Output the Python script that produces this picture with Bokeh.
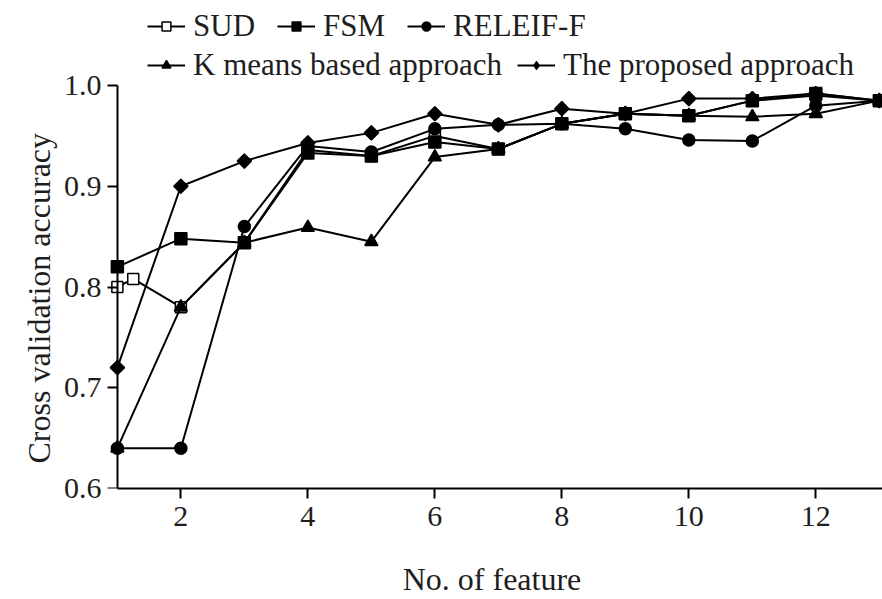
import math
from bokeh.plotting import figure
from bokeh.models import (Range1d, FixedTicker, PrintfTickFormatter, Legend, LegendItem,
                          LinearAxis, CustomJSTickFormatter, Title)
from bokeh.embed import file_html
from bokeh.resources import INLINE

# ---- data ----
features = [1, 2, 3, 4, 5, 6, 7, 8, 9, 10, 11, 12, 13]
sud_x = [1, 1.25, 2, 3, 4, 5, 6, 7, 8, 9, 10, 11, 12, 13]
sud = [0.800, 0.808, 0.780, 0.844, 0.936, 0.930, 0.950, 0.937, 0.962, 0.972, 0.970, 0.985, 0.990, 0.985]
fsm = [0.820, 0.848, 0.844, 0.933, 0.930, 0.944, 0.937, 0.962, 0.972, 0.970, 0.985, 0.992, 0.985]
releif = [0.640, 0.640, 0.860, 0.940, 0.934, 0.957, 0.961, 0.962, 0.957, 0.946, 0.945, 0.980, 0.985]
kmeans = [0.640, 0.780, 0.844, 0.859, 0.845, 0.929, 0.937, 0.962, 0.972, 0.970, 0.969, 0.972, 0.985]
proposed = [0.720, 0.900, 0.925, 0.943, 0.953, 0.972, 0.961, 0.977, 0.972, 0.987, 0.987, 0.992, 0.985]

x_ticks = [2, 4, 6, 8, 10, 12]
y_ticks = [0.6, 0.7, 0.8, 0.9, 1.0]
x_lo, x_hi = 0.75, 13.05
y_lo, y_hi = 0.6, 1.0844

FONT = "Liberation Serif"
TXT = "#1e1e1e"

p = figure(width=882, height=599, output_backend="svg", toolbar_location=None,
           x_range=Range1d(x_lo, x_hi), y_range=Range1d(y_lo, y_hi),
           x_axis_location=None, y_axis_location=None,
           min_border_left=101, min_border_right=0, min_border_top=0, min_border_bottom=111)
p.outline_line_color = None
p.xgrid.visible = False
p.ygrid.visible = False
p.background_fill_color = "white"


def style(ax):
    ax.axis_line_width = 2
    ax.axis_line_color = "black"
    ax.major_tick_line_width = 2
    ax.major_tick_line_color = "black"
    ax.minor_tick_line_color = None
    ax.major_label_text_font = FONT
    ax.major_label_text_font_size = "30px"
    ax.major_label_text_color = TXT
    ax.axis_label_text_font = FONT
    ax.axis_label_text_font_size = "32px"
    ax.axis_label_text_font_style = "normal"
    ax.axis_label_text_color = TXT


# x axis
xaxis = LinearAxis(ticker=FixedTicker(ticks=x_ticks), bounds=(1, x_hi),
                   axis_label="No. of feature")
style(xaxis)
xaxis.major_tick_in = 0
xaxis.major_tick_out = 10
xaxis.major_label_standoff = 8
xaxis.axis_label_standoff = 32
p.add_layout(xaxis, "below")

# y axis: tick labels on the left side of the frame
ylab = LinearAxis(ticker=FixedTicker(ticks=y_ticks), formatter=PrintfTickFormatter(format="%.1f"))
style(ylab)
ylab.axis_line_color = None
ylab.major_tick_line_color = None
ylab.major_tick_in = 0
ylab.major_tick_out = 0
ylab.major_label_standoff = 0
p.add_layout(ylab, "left")

# y axis title, placed along the 0.6-1.0 span
p.add_layout(Title(text="Cross validation accuracy", align="left", offset=25,
                   text_font=FONT, text_font_size="32px", text_font_style="normal",
                   text_color=TXT, standoff=8), "left")

# y axis line and ticks drawn at feature 1
yline = LinearAxis(ticker=FixedTicker(ticks=y_ticks), bounds=(y_lo, 1.0), fixed_location=1,
                   formatter=CustomJSTickFormatter(code="return ''"))
style(yline)
yline.major_tick_in = 10
yline.major_tick_out = 0
yline.major_label_standoff = 0
yline.major_label_text_font_size = "1px"
p.add_layout(yline, "right")

LW = 2
series = [
    ("SUD", sud_x, sud, "square", 11, "white", 0),
    ("FSM", features, fsm, "square", 12, "black", 0),
    ("RELEIF-F", features, releif, "circle", 12, "black", 0),
    ("K means based approach", features, kmeans, "triangle", 13, "black", 0),
    ("The proposed approach", features, proposed, "square", 10, "black", math.pi / 4),
]
items = {}
for name, xs, ys, mk, sz, fill, ang in series:
    lr = p.line(xs, ys, line_color="black", line_width=LW)
    if name == "The proposed approach":
        # diamond (used by the legend), hidden under the rotated squares
        dr = p.scatter(xs, ys, marker="diamond", size=14, fill_color="black",
                       line_color="black")
    sr = p.scatter(xs, ys, marker=mk, size=sz, fill_color=fill, line_color="black",
                   line_width=1.5, angle=ang)
    items[name] = [lr, sr]
items["The proposed approach"] = [items["The proposed approach"][0], dr]


def make_legend(names, loc, spacing):
    return Legend(items=[LegendItem(label=n, renderers=items[n]) for n in names],
                  orientation="horizontal", location=loc, spacing=spacing,
                  padding=0, margin=0, border_line_color=None, background_fill_alpha=0,
                  glyph_width=38, glyph_height=22, label_standoff=8,
                  label_text_font=FONT, label_text_font_size="31px", label_text_color=TXT,
                  label_height=28)


p.add_layout(make_legend(["SUD", "FSM", "RELEIF-F"], (46, 444), 22), "center")
p.add_layout(make_legend(["K means based approach", "The proposed approach"], (46, 405), 15), "center")

open("out.html", "w").write(file_html(p, INLINE))
